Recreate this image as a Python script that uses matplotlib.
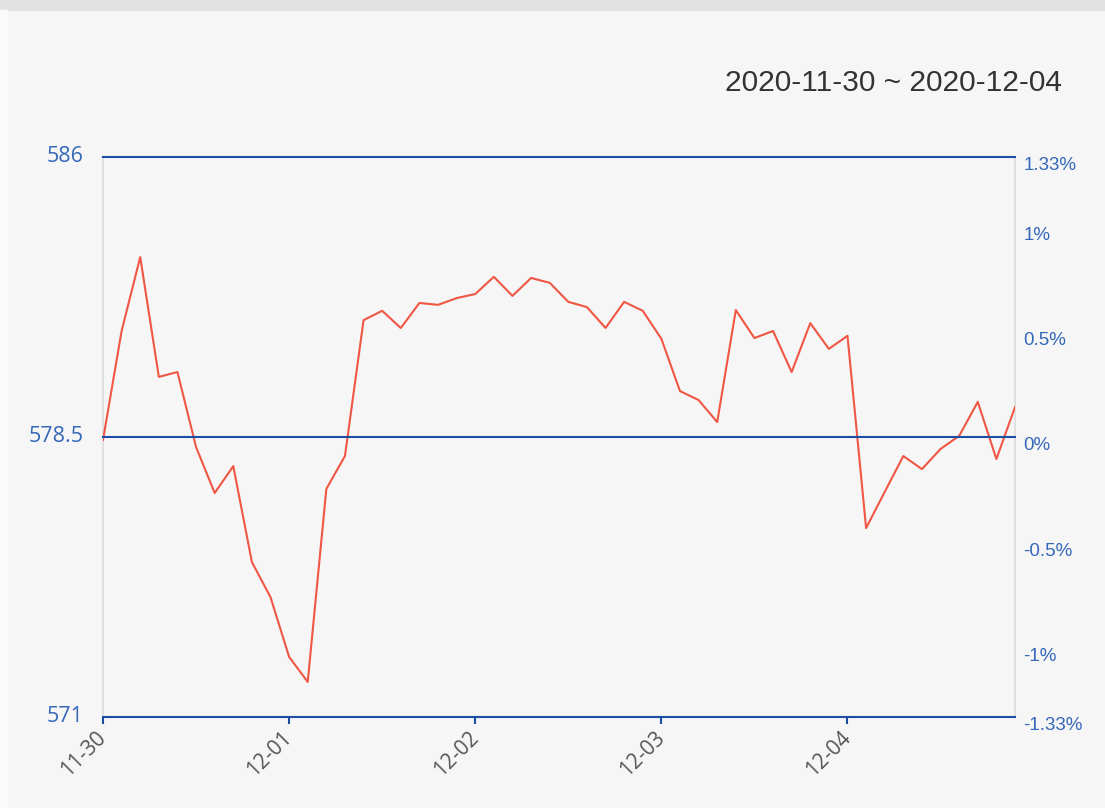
import numpy as np
import matplotlib.pyplot as plt
import matplotlib.transforms as mtransforms
from matplotlib.patches import Rectangle

# intraday price samples, 10 per day, 2020-11-30 .. 2020-12-04
prices = [578.42, 581.34, 583.32, 580.11, 580.24, 578.23, 577.00, 577.72, 575.15, 574.21,
          572.61, 571.94, 577.11, 577.99, 581.63, 581.88, 581.42, 582.09, 582.04, 582.22,
          582.33, 582.79, 582.28, 582.76, 582.63, 582.12, 581.98, 581.42, 582.12, 581.88,
          581.13, 579.73, 579.49, 578.90, 581.90, 581.15, 581.34, 580.24, 581.55, 580.86,
          581.21, 576.06, 577.03, 577.99, 577.64, 578.18, 578.53, 579.44, 577.91, 579.30]
day_labels = ['11-30', '12-01', '12-02', '12-03', '12-04']
per_day = 10
base = 578.5
y_low, y_high = 571, 586
pct_ticks = [-1.33, -1, -0.5, 0, 0.5, 1, 1.33]
pct_labels = ['-1.33%', '-1%', '-0.5%', '0%', '0.5%', '1%', '1.33%']
title = '2020-11-30 ~ 2020-12-04'

bg = '#f6f6f6'
blue = '#1c4fa3'
label_blue = '#3568b8'
red = '#ef5744'

fig = plt.figure(figsize=(11.05, 8.08), dpi=100, facecolor=bg)
fig.patches.append(Rectangle((0, 1 - 10 / 808), 1, 10 / 808, transform=fig.transFigure,
                             color='#e2e2e2', zorder=0))
fig.patches.append(Rectangle((0, 0), 7 / 1105, 1 - 10 / 808, transform=fig.transFigure,
                             color='#fbfbfb', zorder=0))

ax = fig.add_axes([103 / 1105, 1 - 717 / 808, 912 / 1105, 560 / 808])
ax.set_facecolor(bg)

x = np.arange(len(prices))
ax.plot(x, prices, color=red, lw=1.5, zorder=3)

ax.set_xlim(0, len(prices) - 1)
ax.set_ylim(y_low, y_high)
for v in (y_high, base):
    ax.axhline(v, color=blue, lw=1.5, zorder=4, clip_on=False)

for s in ('left', 'right'):
    ax.spines[s].set_color('#dcdcdc')
    ax.spines[s].set_linewidth(1.2)
ax.spines['top'].set_visible(False)
ax.spines['bottom'].set_color(blue)
ax.spines['bottom'].set_linewidth(1.5)

ax.set_xticks(np.arange(len(day_labels)) * per_day)
ax.set_xticklabels(day_labels, rotation=45, ha='right', va='center',
                   rotation_mode='anchor', fontsize=15, color='#555555',
                   family=['Open Sans', 'DejaVu Sans'])
ax.tick_params(axis='x', direction='out', length=5, width=1.5, color=blue, pad=8)

ax.set_yticks([y_low, base, y_high])
ax.set_yticklabels(['571', '578.5', '586'], fontsize=15.5, color=label_blue,
                   family=['Open Sans', 'DejaVu Sans'])
ax.tick_params(axis='y', length=0, pad=14)
up = mtransforms.ScaledTranslation(0, 3 / 100, fig.dpi_scale_trans)
for lab in ax.get_yticklabels():
    lab.set_transform(lab.get_transform() + up)

ax2 = ax.twinx()
ax2.set_ylim(-1.33, 1.33)
ax2.set_yticks(pct_ticks)
ax2.set_yticklabels(pct_labels, fontsize=13.5, color=label_blue,
                    family=['Liberation Sans', 'DejaVu Sans'])
ax2.tick_params(axis='y', length=0, pad=6)
down = mtransforms.ScaledTranslation(0, -7 / 100, fig.dpi_scale_trans)
for lab in ax2.get_yticklabels():
    lab.set_transform(lab.get_transform() + down)
for s in ax2.spines.values():
    s.set_visible(False)

fig.text(1062 / 1105, 1 - 83 / 808, title, ha='right', va='center', fontsize=21.5,
         color='#333333', family=['Liberation Sans', 'DejaVu Sans'])

fig.savefig('out.png', dpi=100, facecolor=bg)
